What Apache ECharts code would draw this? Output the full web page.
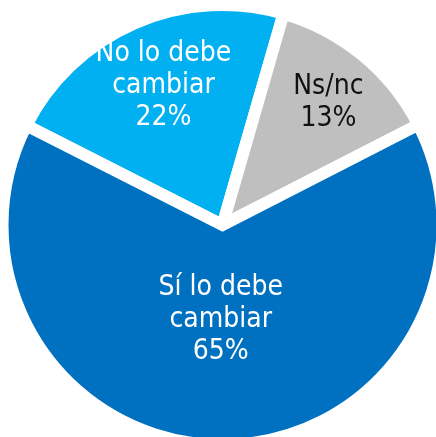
<!DOCTYPE html>
<html>
<head>
<meta charset="utf-8">
<script src="https://cdn.jsdelivr.net/npm/echarts@6/dist/echarts.min.js"></script>
<style>
html,body{margin:0;padding:0;background:#fff;overflow:hidden;}
#chart{width:436px;height:437px;}
</style>
</head>
<body>
<div id="chart"></div>
<script>
// Data
const categories = ['No lo debe\ncambiar', 'Ns/nc', 'Sí lo debe\ncambiar'];
const values = [22, 13, 65];

// Styles
const colors = ['#00B0F0', '#BFBFBF', '#0070C0'];
const labelColors = ['#ffffff', '#111111', '#ffffff'];
const labelShift = [[-14, -36], [34, -35], [-2, -18.5]];

const chart = echarts.init(document.getElementById('chart'), null, {renderer: 'canvas'});
chart.setOption({
  animation: false,
  series: [{
    type: 'pie',
    center: [222.5, 225],
    radius: [0, 220],
    startAngle: 153.1,
    clockwise: true,
    avoidLabelOverlap: false,
    emphasis: {disabled: true},
    itemStyle: {borderColor: '#ffffff', borderWidth: 12, borderJoin: 'miter'},
    label: {
      show: true,
      position: 'inside',
      fontFamily: '"DejaVu Sans Condensed", "Liberation Sans", sans-serif',
      fontSize: 28,
      lineHeight: 32,
      align: 'center',
      formatter: p => p.name + '\n' + p.value + '%'
    },
    labelLine: {show: false},
    labelLayout: p => ({dx: labelShift[p.dataIndex][0], dy: labelShift[p.dataIndex][1]}),
    data: categories.map((c, i) => ({
      name: c,
      value: values[i],
      itemStyle: {color: colors[i]},
      label: {color: labelColors[i]}
    }))
  }]
});
</script>
</body>
</html>
